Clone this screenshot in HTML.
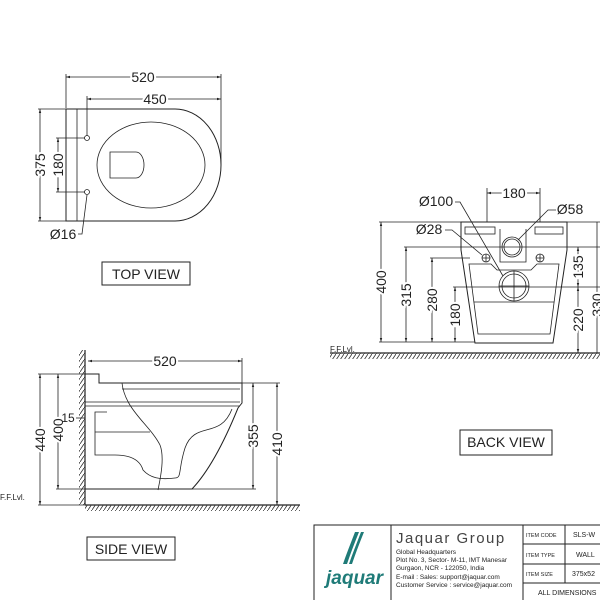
<!DOCTYPE html>
<html><head><meta charset="utf-8"><style>
html,body{margin:0;padding:0;background:#fff}
svg{display:block}
text{font-family:"Liberation Sans",sans-serif;fill:#222}
</style></head><body>
<svg width="600" height="600" viewBox="0 0 600 600" xmlns="http://www.w3.org/2000/svg">
<defs>
<marker id="a" viewBox="0 0 10 10" refX="10" refY="5" markerWidth="5" markerHeight="5" orient="auto-start-reverse"><path d="M0,2 L10,5 L0,8z" fill="#222"/></marker>
<pattern id="h" width="4" height="6" patternUnits="userSpaceOnUse"><path d="M4,0 L0,6" stroke="#333" stroke-width="0.8"/></pattern>
</defs>
<g stroke="#222" fill="none" stroke-width="0.8">
<line x1="66" y1="74" x2="66" y2="108"/><line x1="221" y1="74" x2="221" y2="165"/><line x1="87" y1="96" x2="87" y2="136"/>
<line x1="66" y1="77" x2="221" y2="77" marker-start="url(#a)" marker-end="url(#a)"/>
<line x1="87" y1="99" x2="221" y2="99" marker-start="url(#a)" marker-end="url(#a)"/>
<path d="M66,109 H175 A46,56 0 0 1 175,221 H66 Z" stroke-width="1"/>
<line x1="77" y1="109" x2="77" y2="221"/>
<circle cx="87" cy="138" r="2.5"/><circle cx="87" cy="192" r="2.5"/>
<ellipse cx="151" cy="165" rx="54" ry="43"/>
<path d="M110,152 H136 A8,13 0 0 1 136,178 H110 Z"/>
<line x1="38" y1="109" x2="66" y2="109"/><line x1="38" y1="221" x2="66" y2="221"/>
<line x1="40" y1="109" x2="40" y2="221" marker-start="url(#a)" marker-end="url(#a)"/>
<line x1="56" y1="138" x2="85" y2="138"/><line x1="56" y1="192" x2="85" y2="192"/>
<line x1="58" y1="138" x2="58" y2="192" marker-start="url(#a)" marker-end="url(#a)"/>
<path d="M78,234 L82,234 L87,195"/>
<rect x="102" y="262" width="88" height="23" stroke-width="1"/>
<line x1="487" y1="188" x2="487" y2="222"/><line x1="540" y1="188" x2="540" y2="222"/>
<line x1="487" y1="193" x2="540" y2="193" marker-start="url(#a)" marker-end="url(#a)"/>
<path d="M461,222 H567 V250 L553,343 H475 L461,250 Z" stroke-width="1"/>
<path d="M469,264 H491 L497,270 H531 L537,264 H559 L550,334 H478 Z"/>
<line x1="474" y1="302" x2="554" y2="302"/>
<rect x="465" y="227" width="30" height="7"/><rect x="535" y="227" width="28" height="7"/>
<path d="M500,229 V262 H526 V229"/>
<circle cx="512" cy="247" r="10"/><circle cx="512" cy="247" r="8"/>
<circle cx="486" cy="258" r="4"/><circle cx="540" cy="258" r="4"/>
<path d="M482,258 H490 M486,254 V262 M536,258 H544 M540,254 V262"/>
<circle cx="514" cy="286" r="15"/><circle cx="514" cy="286" r="12"/>
<path d="M499,286 H529 M514,271 V301"/>
<line x1="379" y1="222" x2="600" y2="222"/>
<line x1="404" y1="247" x2="600" y2="247"/>
<line x1="430" y1="258" x2="470" y2="258"/>
<line x1="453" y1="287" x2="600" y2="287"/>
<line x1="379" y1="342" x2="475" y2="342"/>
<line x1="381" y1="222" x2="381" y2="342" marker-start="url(#a)" marker-end="url(#a)"/>
<line x1="406" y1="247" x2="406" y2="342" marker-start="url(#a)" marker-end="url(#a)"/>
<line x1="432" y1="258" x2="432" y2="342" marker-start="url(#a)" marker-end="url(#a)"/>
<line x1="455" y1="287" x2="455" y2="342" marker-start="url(#a)" marker-end="url(#a)"/>
<line x1="578" y1="247" x2="578" y2="287" marker-start="url(#a)" marker-end="url(#a)"/>
<line x1="578" y1="287" x2="578" y2="353" marker-start="url(#a)" marker-end="url(#a)"/>
<line x1="597" y1="222" x2="597" y2="353"/>
<path d="M455,202 L460,202 L503,276"/>
<path d="M445,230 L452,230 L482,255"/>
<path d="M556,210 L548,210 L518,240"/>
<line x1="330" y1="353" x2="600" y2="353" stroke-width="1.2"/>
<rect x="330" y="353" width="270" height="6" fill="url(#h)" stroke="none"/>
<rect x="460" y="430" width="92" height="25" stroke-width="1"/>
<line x1="85" y1="350" x2="85" y2="505" stroke-width="1.2"/>
<rect x="79" y="350" width="6" height="155" fill="url(#h)" stroke="none"/>
<line x1="85" y1="505" x2="300" y2="505" stroke-width="1.2"/>
<rect x="85" y="505" width="215" height="6" fill="url(#h)" stroke="none"/>
<line x1="242" y1="358" x2="242" y2="383"/>
<line x1="88" y1="361" x2="242" y2="361" marker-start="url(#a)" marker-end="url(#a)"/>
<path d="M85,374 H99 V383 H242 V403 L238,408 C225,440 210,470 192,489 H85" stroke-width="1"/>
<path d="M85,402 H240 M85,406 H240"/>
<path d="M122,383 C125,410 150,425 160,445 C165,458 160,480 158,490" />
<path d="M122,389 H240"/>
<path d="M232,409 C220,440 195,420 185,448 C178,470 182,478 175,478 C160,480 150,478 143,470 C140,460 130,455 115,455 H95 V412 H107"/>
<path d="M95,432 H150"/>
<line x1="38" y1="374" x2="85" y2="374"/><line x1="38" y1="505" x2="85" y2="505"/>
<line x1="56" y1="489" x2="85" y2="489"/>
<line x1="40" y1="374" x2="40" y2="505" marker-start="url(#a)" marker-end="url(#a)"/>
<line x1="58" y1="374" x2="58" y2="489" marker-start="url(#a)" marker-end="url(#a)"/>
<line x1="242" y1="383" x2="280" y2="383"/><line x1="192" y1="489" x2="256" y2="489"/>
<line x1="253" y1="383" x2="253" y2="489" marker-start="url(#a)" marker-end="url(#a)"/>
<line x1="277" y1="383" x2="277" y2="505" marker-start="url(#a)" marker-end="url(#a)"/>
<path d="M76,418 H85"/>
<rect x="87" y="537" width="88" height="23" stroke-width="1"/>
<path d="M314,600 V525 H600 M391,525 V600 M523,525 V600 M565,525 V583 M523,544 H600 M523,564 H600 M523,583 H600" stroke-width="1"/>
</g>
<g font-size="14" text-anchor="middle">
<text x="143" y="82" style="paint-order:stroke" stroke="#fff" stroke-width="4">520</text>
<text x="155" y="104" style="paint-order:stroke" stroke="#fff" stroke-width="4">450</text>
<text transform="translate(45,165) rotate(-90)" style="paint-order:stroke" stroke="#fff" stroke-width="4">375</text>
<text transform="translate(63,165) rotate(-90)" style="paint-order:stroke" stroke="#fff" stroke-width="4">180</text>
<text x="63" y="239">Ø16</text>
<text x="146" y="279">TOP VIEW</text>
<text x="514" y="198" style="paint-order:stroke" stroke="#fff" stroke-width="4">180</text>
<text x="436" y="206">Ø100</text>
<text x="570" y="214">Ø58</text>
<text x="429" y="234">Ø28</text>
<text transform="translate(386,282) rotate(-90)" style="paint-order:stroke" stroke="#fff" stroke-width="4">400</text>
<text transform="translate(411,295) rotate(-90)" style="paint-order:stroke" stroke="#fff" stroke-width="4">315</text>
<text transform="translate(437,300) rotate(-90)" style="paint-order:stroke" stroke="#fff" stroke-width="4">280</text>
<text transform="translate(460,315) rotate(-90)" style="paint-order:stroke" stroke="#fff" stroke-width="4">180</text>
<text transform="translate(583,267) rotate(-90)" style="paint-order:stroke" stroke="#fff" stroke-width="4">135</text>
<text transform="translate(583,320) rotate(-90)" style="paint-order:stroke" stroke="#fff" stroke-width="4">220</text>
<text transform="translate(602,305) rotate(-90)" style="paint-order:stroke" stroke="#fff" stroke-width="4">330</text>
<text x="506" y="447">BACK VIEW</text>
<text x="165" y="366" style="paint-order:stroke" stroke="#fff" stroke-width="4">520</text>
<text transform="translate(45,440) rotate(-90)" style="paint-order:stroke" stroke="#fff" stroke-width="4">440</text>
<text transform="translate(63,430) rotate(-90)" style="paint-order:stroke" stroke="#fff" stroke-width="4">400</text>
<text transform="translate(258,436) rotate(-90)" style="paint-order:stroke" stroke="#fff" stroke-width="4">355</text>
<text transform="translate(282,444) rotate(-90)" style="paint-order:stroke" stroke="#fff" stroke-width="4">410</text>
<text x="68" y="422" font-size="12">15</text>
<text x="131" y="554">SIDE VIEW</text>
</g>
<g font-size="8">
<text x="330" y="352">F.F.Lvl.</text>
<text x="0" y="500">F.F.Lvl.</text>
</g>
<path d="M355,532 C350,545 346,555 343,564 L347,564 C351,552 355,542 359,532 Z M361,532 C356,545 352,555 349,564 L352,564 C356,552 360,542 364,532 Z" fill="#1f7b78"/>
<text x="326" y="584" font-size="19" font-style="italic" font-weight="bold" style="fill:#1f7b78">jaquar</text>
<g font-family="Liberation Sans">
<text x="396" y="543" font-size="15" letter-spacing="1.5" style="fill:#444">Jaquar Group</text>
<g font-size="6.5" style="fill:#333">
<text x="396" y="554">Global Headquarters</text>
<text x="396" y="562">Plot No. 3, Sector- M-11, IMT Manesar</text>
<text x="396" y="570">Gurgaon, NCR - 122050, India</text>
<text x="396" y="579">E-mail : Sales: support@jaquar.com</text>
<text x="396" y="587">Customer Service : service@jaquar.com</text>
</g>
<g font-size="5.5" font-family="Liberation Serif" style="fill:#555">
<text x="526" y="537">ITEM CODE</text>
<text x="526" y="557">ITEM TYPE</text>
<text x="526" y="576">ITEM SIZE</text>
</g>
<g font-size="7" style="fill:#222">
<text x="573" y="537">SLS-W</text>
<text x="576" y="557">WALL</text>
<text x="572" y="576">375x52</text>
<text x="538" y="595">ALL DIMENSIONS</text>
</g>
</g>
</svg>
</body></html>
